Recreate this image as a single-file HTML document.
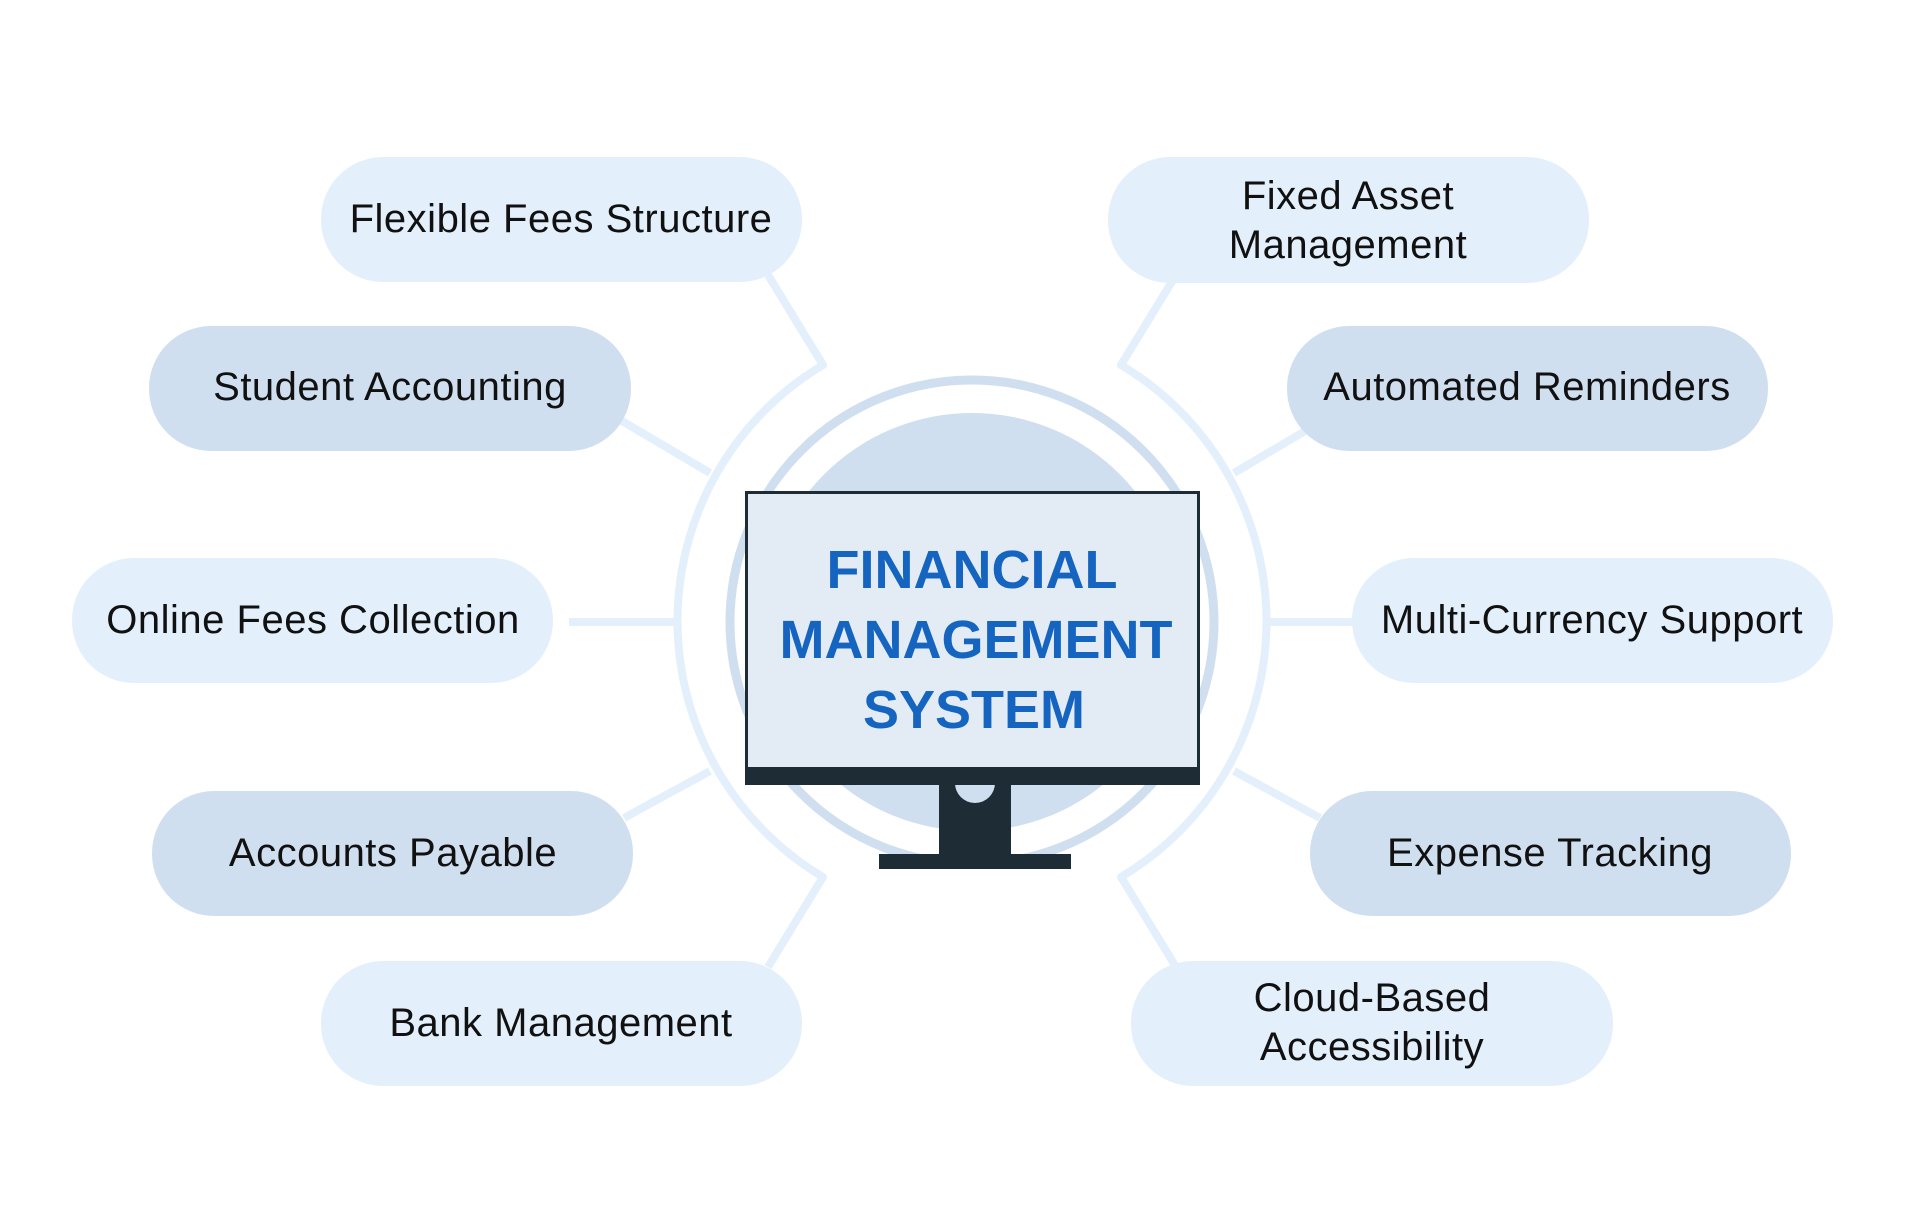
<!DOCTYPE html>
<html><head><meta charset="utf-8"><style>
html,body{margin:0;padding:0;background:#fff;}
svg{display:block}
.t{font-family:"Liberation Sans",sans-serif;font-size:40px;fill:#111;text-anchor:middle;letter-spacing:0.5px}
.h{font-family:"Liberation Sans",sans-serif;font-weight:bold;font-size:54px;fill:#1565c0;text-anchor:middle}
</style></head><body>
<svg width="1920" height="1226" viewBox="0 0 1920 1226" xmlns="http://www.w3.org/2000/svg">
<rect width="1920" height="1226" fill="#fff"/>
<!-- outer ring arcs -->
<g fill="none" stroke="#e3f0fc" stroke-width="8" stroke-linejoin="round">
<path d="M768,275 L823,365 A298,298 0 0 0 823,877 L768,967"/>
<path d="M1176,275 L1121,365 A298,298 0 0 1 1121,877 L1176,967"/>
<line x1="622" y1="421" x2="710" y2="473"/>
<line x1="569" y1="622" x2="674" y2="622"/>
<line x1="624" y1="818" x2="710" y2="771"/>
<line x1="1322" y1="421" x2="1234" y2="473"/>
<line x1="1375" y1="622" x2="1270" y2="622"/>
<line x1="1320" y1="818" x2="1234" y2="771"/>
</g>
<circle cx="972" cy="622" r="242" fill="none" stroke="#d0dff0" stroke-width="9"/>
<circle cx="972" cy="622" r="209" fill="#d0dff0"/>
<!-- pills -->
<rect x="321" y="157" width="481" height="125" rx="62" fill="#e3f0fc"/>
<rect x="149" y="326" width="482" height="125" rx="62" fill="#d0dff0"/>
<rect x="72" y="558" width="481" height="125" rx="62" fill="#e3f0fc"/>
<rect x="152" y="791" width="481" height="125" rx="62" fill="#d0dff0"/>
<rect x="321" y="961" width="481" height="125" rx="62" fill="#e3f0fc"/>
<rect x="1108" y="157" width="481" height="126" rx="62" fill="#e3f0fc"/>
<rect x="1287" y="326" width="481" height="125" rx="62" fill="#d0dff0"/>
<rect x="1352" y="558" width="481" height="125" rx="62" fill="#e3f0fc"/>
<rect x="1310" y="791" width="481" height="125" rx="62" fill="#d0dff0"/>
<rect x="1131" y="961" width="482" height="125" rx="62" fill="#e3f0fc"/>
<text class="t" x="561" y="232">Flexible Fees Structure</text>
<text class="t" x="390" y="400">Student Accounting</text>
<text class="t" x="313" y="633">Online Fees Collection</text>
<text class="t" x="393" y="866">Accounts Payable</text>
<text class="t" x="561" y="1036">Bank Management</text>
<text class="t" x="1348" y="209">Fixed Asset</text>
<text class="t" x="1348" y="258">Management</text>
<text class="t" x="1527" y="400">Automated Reminders</text>
<text class="t" x="1592" y="633">Multi-Currency Support</text>
<text class="t" x="1550" y="866">Expense Tracking</text>
<text class="t" x="1372" y="1011">Cloud-Based</text>
<text class="t" x="1372" y="1060">Accessibility</text>
<!-- monitor -->
<rect x="939" y="783" width="72" height="72" fill="#1e2d35"/>
<circle cx="975" cy="783" r="20" fill="#d0dff0"/>
<rect x="879" y="854" width="192" height="15" fill="#1e2d35"/>
<rect x="746.5" y="492.5" width="452" height="291" fill="#e3ecf5" stroke="#1e2d35" stroke-width="3"/>
<rect x="745" y="767" width="455" height="18" fill="#1e2d35"/>
<text class="h" x="972" y="588">FINANCIAL</text>
<text class="h" x="976" y="658">MANAGEMENT</text>
<text class="h" x="974" y="728">SYSTEM</text>
</svg>
</body></html>
